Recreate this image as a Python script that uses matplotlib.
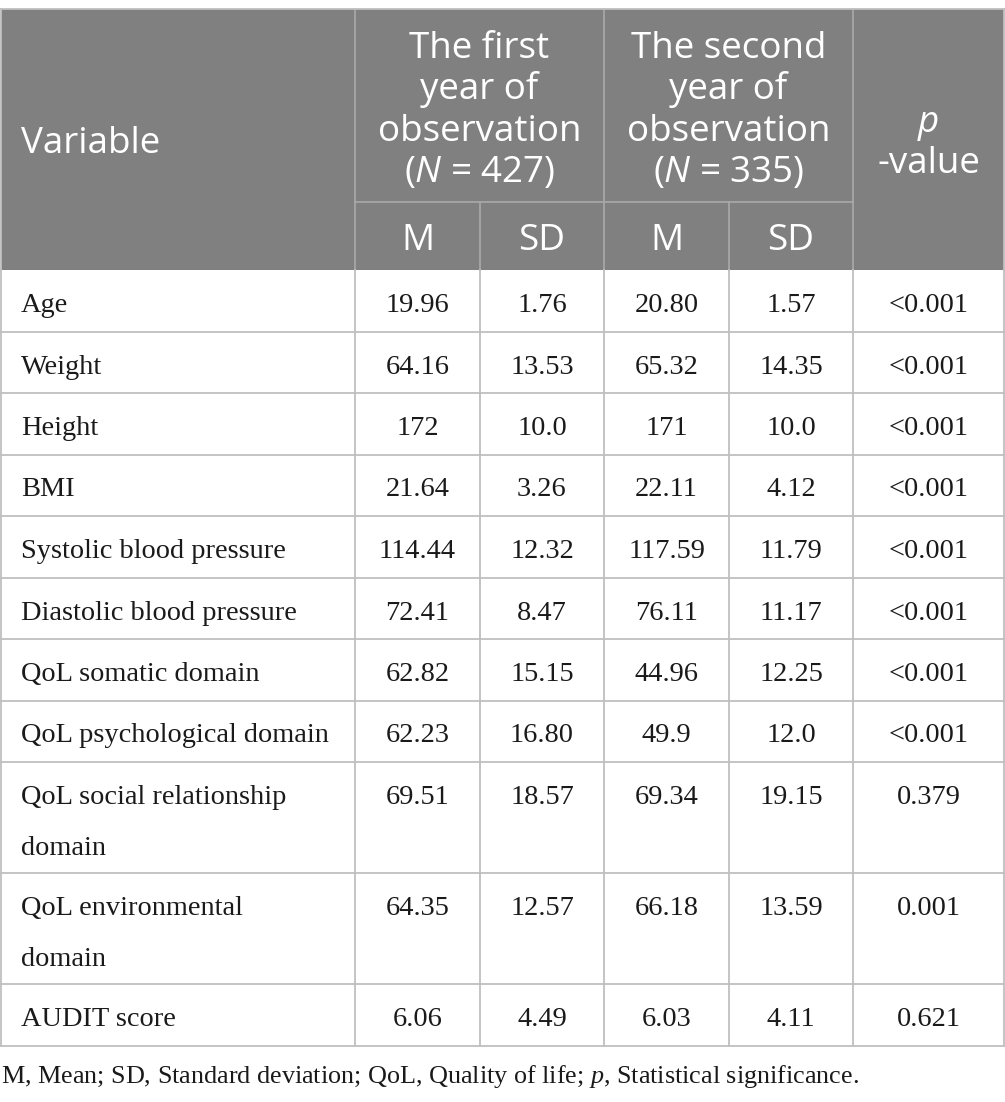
import matplotlib
matplotlib.use("Agg")
import matplotlib.pyplot as plt
from matplotlib.patches import Rectangle

# table contents
variables = ["Age", "Weight", "Height", "BMI", "Systolic blood pressure",
             "Diastolic blood pressure", "QoL somatic domain",
             "QoL psychological domain", "QoL social relationship\ndomain",
             "QoL environmental\ndomain", "AUDIT score"]
m_first = ["19.96", "64.16", "172", "21.64", "114.44", "72.41", "62.82", "62.23", "69.51", "64.35", "6.06"]
sd_first = ["1.76", "13.53", "10.0", "3.26", "12.32", "8.47", "15.15", "16.80", "18.57", "12.57", "4.49"]
m_second = ["20.80", "65.32", "171", "22.11", "117.59", "76.11", "44.96", "49.9", "69.34", "66.18", "6.03"]
sd_second = ["1.57", "14.35", "10.0", "4.12", "11.79", "11.17", "12.25", "12.0", "19.15", "13.59", "4.11"]
p_values = ["<0.001", "<0.001", "<0.001", "<0.001", "<0.001", "<0.001", "<0.001", "<0.001", "0.379", "0.001", "0.621"]

group_headers = [["The first", "year of", "observation", "($N$ = 427)"],
                 ["The second", "year of", "observation", "($N$ = 335)"]]
sub_headers = ["M", "SD", "M", "SD"]
p_header = ["$p$", "-value"]
footnote = "M, Mean; SD, Standard deviation; QoL, Quality of life; $\\mathbf{p}$, Statistical significance."

plt.rcParams["mathtext.fontset"] = "custom"
plt.rcParams["mathtext.it"] = "Open Sans:italic"
plt.rcParams["mathtext.rm"] = "Open Sans"
plt.rcParams["mathtext.bf"] = "Liberation Serif:italic"

W, H = 1005, 1102
fig = plt.figure(figsize=(W / 100, H / 100), dpi=100)
ax = fig.add_axes([0, 0, 1, 1])
ax.set_xlim(0, W)
ax.set_ylim(H, 0)
ax.axis("off")

header_bg = "#7f807f"
header_line = "#a9a9a9"
grid = "#bfbfbf"
body_color = "#1a1a1a"
head_font = "Open Sans"
body_font = "Liberation Serif"
head_size = 26.5
body_size = 20.4

cols = [0.5, 355, 480, 604, 729, 853, 1004]
top, group_bottom, head_bottom = 9, 202, 270
single_h, double_h = 61.5, 111


def head(x, y, s, ha="center"):
    ax.text(x, y, s, color="white", fontsize=head_size, family=head_font,
            ha=ha, va="baseline", zorder=3)


def body(x, y, s, ha="center", size=body_size):
    ax.text(x, y, s, color=body_color, fontsize=size, family=body_font,
            ha=ha, va="baseline", zorder=3)


# header block
ax.add_patch(Rectangle((cols[0], top), cols[-1] - cols[0], head_bottom - top,
                       facecolor=header_bg, edgecolor="none", zorder=1))
for xc in [cols[1], cols[3], cols[5]]:
    ax.plot([xc, xc], [top, head_bottom], color=header_line, lw=1.2, zorder=2)
for xc in [cols[2], cols[4]]:
    ax.plot([xc, xc], [group_bottom, head_bottom], color=header_line, lw=1.2, zorder=2)
ax.plot([cols[1], cols[5]], [group_bottom, group_bottom], color=header_line, lw=1.2, zorder=2)

head(21, 153, "Variable", ha="left")
for i, lines in enumerate(group_headers):
    xc = (cols[1 + 2 * i] + cols[3 + 2 * i]) / 2
    for k, line in enumerate(lines):
        head(xc, 58 + 41.5 * k, line)
for i, label in enumerate(sub_headers):
    head((cols[1 + i] + cols[2 + i]) / 2, 250, label)
for k, line in enumerate(p_header):
    head((cols[5] + cols[6]) / 2, 132 + 41 * k, line)

# body rows
y = head_bottom
row_edges = [y]
for i, name in enumerate(variables):
    parts = name.split("\n")
    h = double_h if len(parts) > 1 else single_h
    base = y + 42
    for k, part in enumerate(parts):
        body(21, base + 51 * k, part, ha="left")
    vals = [m_first[i], sd_first[i], m_second[i], sd_second[i], p_values[i]]
    for j, v in enumerate(vals):
        body((cols[1 + j] + cols[2 + j]) / 2, base, v)
    y += h
    row_edges.append(y)

for ye in row_edges[1:]:
    ax.plot([cols[0], cols[-1]], [ye, ye], color=grid, lw=1.3, zorder=2)
for xc in cols:
    ax.plot([xc, xc], [head_bottom, row_edges[-1]], color=grid, lw=1.3, zorder=2)
ax.plot([cols[0], cols[-1]], [top, top], color=grid, lw=1.3, zorder=2)
ax.plot([cols[0], cols[0]], [top, head_bottom], color=grid, lw=1.3, zorder=2)
ax.plot([cols[-1], cols[-1]], [top, head_bottom], color=grid, lw=1.3, zorder=2)

body(1, 1083, footnote, ha="left", size=18.8)

fig.savefig("out.png", dpi=100)
